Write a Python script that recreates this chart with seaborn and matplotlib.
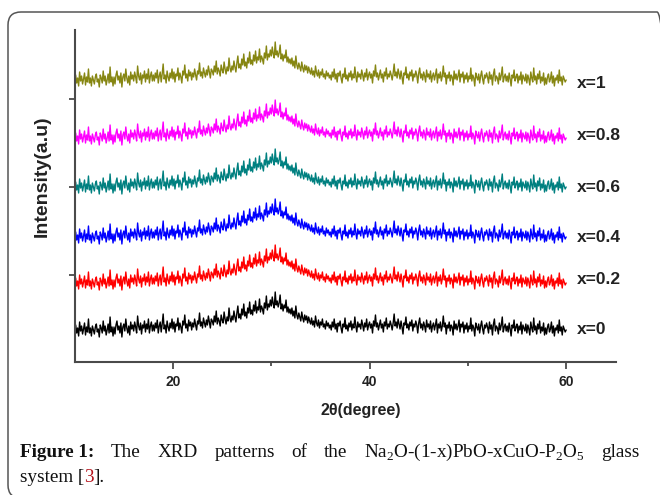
import numpy as np
import pandas as pd
import matplotlib
matplotlib.use("Agg")
import matplotlib.pyplot as plt
from matplotlib.patches import FancyBboxPatch
import seaborn as sns

# ---------------- data ----------------
series_labels = ["x=0", "x=0.2", "x=0.4", "x=0.6", "x=0.8", "x=1"]
series_colors = ["#000000", "#ff0000", "#0000ff", "#008080", "#ff00ff", "#868612"]
series_offsets = [32, 79, 125, 175, 224, 282]   # stacking offset of each pattern
label_heights = [32, 83, 125, 175, 226, 278]
two_theta_start, two_theta_end = 10.0, 60.0
# shared XRD pattern (relative intensity, 0.1 deg step)
pattern = [
    0, 5, -3, 2, -6, 8, -1, 4, -4, 1, 7, -5, 3, -2, 11, -3, 2, -6, 4, 0,
    -4, 3, 6, -2, 1, -7, 5, 2, -3, 9, -1, 4, -5, 0, 6, -3, 13, -2, 3, -6,
    3, -4, 5, 9, 0, 4, -3, 7, -7, 3, 6, -1, 11, 2, -3, 4, -5, 8, 1, 5,
    -1, 8, 3, -3, 14, 4, 0, 7, -4, 5, 2, 9, -2, 6, 1, 11, -3, 4, 8, -1,
    5, -1, 7, 2, 10, -3, 4, 8, -2, 6, 16, 1, 5, -3, 9, 3, -1, 7, 2, 11,
    1, 8, -2, 6, 4, 12, 0, 7, 3, -3, 9, 5, 15, 2, 6, -1, 10, 4, 8, 0,
    7, 3, 11, 5, 0, 9, 6, 17, 4, 8, 2, 12, 7, 3, 10, 5, 14, 8, 2, 11,
    9, 5, 14, 8, 19, 6, 12, 9, 4, 15, 10, 7, 18, 11, 6, 13, 9, 22, 12, 8,
    14, 10, 19, 13, 8, 17, 24, 12, 16, 11, 21, 15, 26, 14, 18, 12, 22, 17, 28, 16,
    20, 15, 25, 19, 29, 17, 23, 20, 31, 18, 24, 21, 16, 27, 22, 34, 20, 26, 23, 30,
    24, 33, 26, 22, 38, 25, 29, 23, 27, 35, 21, 26, 19, 25, 22, 30, 18, 23, 17, 21,
    16, 22, 14, 19, 12, 24, 15, 11, 17, 13, 9, 18, 12, 8, 15, 10, 14, 7, 13, 9,
    6, 12, 5, 9, 3, 14, 7, 4, 10, 2, 8, 5, 11, 3, 6, 1, 9, 4, 7, 2,
    5, 0, 8, 3, 11, 1, 6, -2, 7, 4, 9, 2, -3, 6, 3, 12, 1, 5, -1, 7,
    3, 9, 0, 6, 2, 13, 4, -2, 8, 3, 6, 1, 10, 5, -1, 7, 3, 11, 0, 5,
    8, 2, 6, -3, 9, 4, 15, 3, 7, 0, 5, 10, 2, 6, -2, 8, 4, 12, 1, 6,
    3, 9, 5, 0, 7, 16, 4, 8, 2, 11, 6, 1, 9, 3, -4, 7, 5, 13, 2, 6,
    0, 8, 4, 10, -1, 6, 3, 9, 5, -3, 7, 12, 2, 6, 0, 8, 4, -2, 10, 3,
    6, 1, 9, -2, 4, 7, 0, 5, 11, -3, 6, 2, 8, -1, 4, 14, 3, 7, -4, 5,
    2, 8, -1, 5, 3, -5, 9, 1, 6, 0, 4, 10, -2, 6, 3, 8, -3, 5, 1, 7,
    -2, 4, 1, 12, -1, 5, 2, -6, 7, 3, 0, 6, -3, 4, 9, 1, -4, 5, 2, 7,
    3, -3, 8, 1, 5, -5, 6, 11, -1, 4, 2, -4, 7, 0, 5, 13, -2, 3, 6, -1,
    4, -2, 7, 1, -6, 5, 2, 10, -1, 3, 6, -3, 4, 0, 8, -4, 5, 2, -1, 6,
    -3, 5, 1, -5, 8, 2, -2, 12, 0, 4, -4, 6, 1, 9, -3, 3, -1, 7, -5, 2,
    -4, 3, 6, -2, 1, 8, -3, 4, -6, 2, 0, 5, -3, 10, -1, 3, -5, 4, 1, -2,
    0,
]
x_major_ticks = [20, 40, 60]
x_minor_ticks = [30, 50]
y_ticks = [87, 175, 263]

two_theta = np.linspace(two_theta_start, two_theta_end, len(pattern))
frames = []
for lbl, off in zip(series_labels, series_offsets):
    frames.append(pd.DataFrame({"two_theta": two_theta,
                                "intensity": np.array(pattern) + off,
                                "series": lbl}))
df = pd.concat(frames, ignore_index=True)

# ---------------- style ----------------
sns.set_style("ticks")
plt.rcParams["font.family"] = ["Liberation Sans", "DejaVu Sans"]
plt.rcParams["mathtext.fontset"] = "custom"
plt.rcParams["mathtext.rm"] = "Liberation Serif"

W, H = 660, 495
fig = plt.figure(figsize=(W / 100, H / 100), dpi=100)
fig.patch.set_facecolor("white")

ax = fig.add_axes([74.7 / W, 1 - 362 / H, (616 - 74.7) / W, (362 - 30) / H])
sns.lineplot(data=df, x="two_theta", y="intensity", hue="series",
             palette=dict(zip(series_labels, series_colors)),
             estimator=None, sort=False, linewidth=1.0, legend=False, ax=ax)

ax.set_xlim(10, 65.07)
ax.set_ylim(0, 332)
ax.set_xticks(x_major_ticks)
ax.set_xticks(x_minor_ticks, minor=True)
ax.set_xticklabels([str(t) for t in x_major_ticks])
ax.set_yticks(y_ticks)
ax.set_xlabel("")
ax.set_ylabel("")
spine_c = "#4a4a4a"
for s in ["top", "right"]:
    ax.spines[s].set_visible(False)
for s in ["left", "bottom"]:
    ax.spines[s].set_color(spine_c)
    ax.spines[s].set_linewidth(1.5)
ax.tick_params(axis="x", which="major", direction="out", length=5, width=1.3,
               color=spine_c, labelsize=10, labelcolor="#222222", pad=4)
ax.tick_params(axis="x", which="minor", direction="out", length=3, width=1.3,
               color=spine_c)
ax.tick_params(axis="y", which="major", direction="out", length=4, width=1.3,
               color=spine_c, labelleft=False)
for t in ax.get_xticklabels():
    t.set_fontweight("bold")

for lbl, yh in zip(series_labels, label_heights):
    ax.text(61.1, yh, lbl, ha="left", va="center", fontsize=12.5,
            fontweight="bold", color="#222222")

fig.text(42 / W, 1 - 176 / H, "Intensity(a.u)", rotation=90, ha="center",
         va="center", fontsize=14, fontweight="bold", color="#222222")
fig.text(361 / W, 1 - 411 / H, "2θ(degree)", ha="center", va="center",
         fontsize=11.5, fontweight="bold", color="#222222")

# ---------------- frame ----------------
box = FancyBboxPatch((0.08, -0.03), 6.62, 4.83 + 0.03,
                     boxstyle="round,pad=0,rounding_size=0.13",
                     transform=fig.dpi_scale_trans, fill=False,
                     edgecolor="#555555", linewidth=1.1, clip_on=False)
fig.patches.append(box)

# ---------------- caption ----------------
cap_fs = 13.8
serif = ["Liberation Serif", "DejaVu Serif"]
renderer = fig.canvas.get_renderer()


def place_words(words, y_px, x0, x1, justify):
    arts = []
    for w, weight, color in words:
        t = fig.text(0, 1 - y_px / H, w, fontsize=cap_fs, fontweight=weight,
                     color=color, family=serif, va="baseline", ha="left")
        arts.append(t)
    widths = [a.get_window_extent(renderer).width for a in arts]
    if justify:
        gap = (x1 - x0 - sum(widths)) / (len(arts) - 1)
    else:
        gap = 0
    x = x0
    for a, wd in zip(arts, widths):
        a.set_x(x / W)
        x += wd + gap


line1 = [("Figure 1:", "bold", "#111111"), ("The", "normal", "#111111"),
         ("XRD", "normal", "#111111"), ("patterns", "normal", "#111111"),
         ("of", "normal", "#111111"), ("the", "normal", "#111111"),
         (r"Na$_\mathrm{2}$O-(1-x)PbO-xCuO-P$_\mathrm{2}$O$_\mathrm{5}$", "normal", "#111111"),
         ("glass", "normal", "#111111")]
place_words(line1, 457, 20, 640, True)
line2 = [("system [", "normal", "#111111"), ("3", "normal", "#b5121b"),
         ("].", "normal", "#111111")]
place_words(line2, 482, 20, 640, False)

fig.savefig("out.png", dpi=100, facecolor="white")
